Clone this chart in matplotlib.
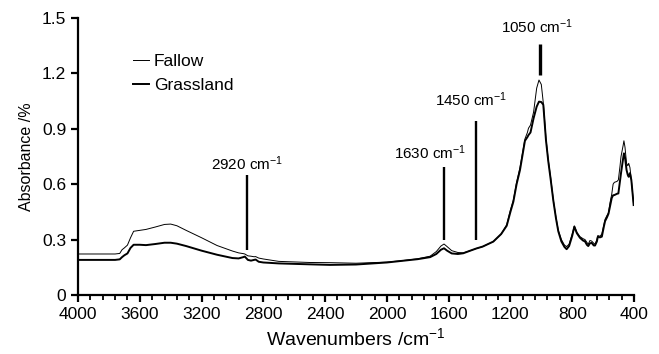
# FTIR spektra: Fallow vs Grassland
import matplotlib
matplotlib.use("Agg")
import matplotlib.pyplot as plt
from matplotlib.ticker import MultipleLocator

plt.rcParams['font.family'] = ['Liberation Sans', 'DejaVu Sans']
plt.rcParams['mathtext.fontset'] = 'custom'
plt.rcParams['mathtext.rm'] = 'Liberation Sans'
plt.rcParams['mathtext.it'] = 'Liberation Sans:italic'

# valovna stevila (cm^-1) in absorbanca
wavenumbers = [4000, 3760, 3730, 3715, 3700, 3680, 3660, 3640, 3600, 3560, 3500, 3440, 3400,
               3360, 3300, 3200, 3100, 3000, 2960, 2930, 2920, 2900, 2880, 2860, 2850, 2830,
               2800, 2700, 2500, 2368, 2200, 2000, 1900, 1800, 1720, 1680, 1650, 1630, 1610,
               1580, 1540, 1505, 1460, 1420, 1380, 1311, 1260, 1224, 1200, 1181, 1160, 1138,
               1106, 1090, 1083, 1070, 1050, 1030, 1015, 1000, 987, 970, 955, 940, 922, 905,
               890, 870, 850, 836, 820, 800, 786, 770, 750, 730, 717, 705, 696, 685, 674, 660,
               652, 640, 634, 620, 608, 595, 587, 575, 565, 555, 544, 535, 527, 510, 501, 490,
               484, 470, 465, 458, 448, 440, 434, 426, 417, 410, 402]
fallow = [0.222, 0.222, 0.225, 0.245, 0.255, 0.270, 0.310, 0.345, 0.350, 0.355, 0.368, 0.382, 0.384,
          0.375, 0.350, 0.310, 0.268, 0.238, 0.228, 0.224, 0.222, 0.212, 0.210, 0.207, 0.208, 0.200,
          0.195, 0.182, 0.176, 0.175, 0.172, 0.178, 0.186, 0.196, 0.210, 0.235, 0.265, 0.276, 0.262,
          0.240, 0.230, 0.228, 0.240, 0.252, 0.262, 0.289, 0.330, 0.380, 0.460, 0.514, 0.610, 0.690,
          0.845, 0.880, 0.903, 0.920, 0.990, 1.120, 1.164, 1.140, 1.040, 0.850, 0.731, 0.640, 0.514, 0.420,
          0.350, 0.300, 0.270, 0.262, 0.275, 0.330, 0.374, 0.340, 0.316, 0.305, 0.300, 0.285, 0.275, 0.295, 0.292, 0.280,
          0.275, 0.300, 0.322, 0.318, 0.330, 0.380, 0.410, 0.430, 0.445, 0.500, 0.545, 0.600, 0.610, 0.615, 0.623, 0.700,
          0.749, 0.810, 0.835, 0.800, 0.713, 0.700, 0.713, 0.690, 0.623, 0.560, 0.487]
grassland = [0.190, 0.190, 0.193, 0.205, 0.215, 0.225, 0.255, 0.272, 0.272, 0.270, 0.276, 0.283, 0.283,
             0.278, 0.265, 0.240, 0.218, 0.200, 0.198, 0.205, 0.208, 0.190, 0.186, 0.190, 0.192, 0.180,
             0.176, 0.171, 0.166, 0.163, 0.165, 0.176, 0.185, 0.194, 0.205, 0.222, 0.245, 0.253, 0.240,
             0.225, 0.222, 0.226, 0.240, 0.252, 0.262, 0.289, 0.330, 0.375, 0.450, 0.505, 0.600, 0.677,
             0.835, 0.855, 0.866, 0.880, 0.957, 1.020, 1.047, 1.045, 1.030, 0.840, 0.725, 0.630, 0.510, 0.415,
             0.345, 0.290, 0.260, 0.248, 0.265, 0.320, 0.370, 0.335, 0.310, 0.295, 0.290, 0.272, 0.265, 0.280, 0.282, 0.268,
             0.268, 0.290, 0.315, 0.312, 0.316, 0.370, 0.400, 0.420, 0.440, 0.480, 0.525, 0.540, 0.541, 0.548, 0.550, 0.620,
             0.659, 0.740, 0.767, 0.745, 0.677, 0.650, 0.640, 0.660, 0.623, 0.560, 0.487]

# oznake pasov: polozaj, spodnji in zgornji konec crte, visina napisa
band_labels = ["2920", "1630", "1450", "1050"]
band_pos = [2908, 1628, 1425, 1009]
band_low = [0.245, 0.298, 0.298, 1.19]
band_high = [0.65, 0.695, 0.94, 1.36]
label_x = [2908, 1720, 1455, 1030]
label_y = [0.71, 0.77, 1.056, 1.453]

fig = plt.figure(figsize=(6.59, 3.54), dpi=100)
ax = fig.add_axes([0.1184, 0.1667, 0.8436, 0.7825])

ax.plot(wavenumbers, fallow, color='black', lw=0.7, label='Fallow')
ax.plot(wavenumbers, grassland, color='black', lw=1.4, label='Grassland')

for i in range(len(band_labels)):
    lw = 2.4 if band_labels[i] == "1050" else 1.7
    ax.vlines(band_pos[i], band_low[i], band_high[i], color='black', lw=lw)
    ax.text(label_x[i], label_y[i], band_labels[i] + r" cm$^{-1}$", ha='center', va='center',
            fontsize=11)

ax.set_xlim(4000, 400)
ax.set_ylim(0, 1.5)
ax.xaxis.set_major_locator(MultipleLocator(400))
ax.xaxis.set_minor_locator(MultipleLocator(80))
ax.set_yticks([0, 0.3, 0.6, 0.9, 1.2, 1.5])
ax.set_yticklabels(["0", "0.3", "0.6", "0.9", "1.2", "1.5"])

for side in ['top', 'right']:
    ax.spines[side].set_visible(False)
for side in ['left', 'bottom']:
    ax.spines[side].set_linewidth(1.6)
ax.tick_params(axis='both', which='major', direction='out', length=5, width=1.6, labelsize=12.5)
ax.tick_params(axis='x', which='minor', direction='out', length=3.5, width=1.3)

ax.set_xlabel(r"Wavenumbers /cm$^{-1}$", fontsize=14, labelpad=4)
ax.set_ylabel("Absorbance /%", fontsize=11.5, labelpad=6)

ax.legend(loc='upper left', bbox_to_anchor=(0.099, 0.872), frameon=False, fontsize=12.5,
          handlelength=0.9, handletextpad=0.3, labelspacing=0.55, borderpad=0, borderaxespad=0)

fig.savefig("out.png", dpi=100)
